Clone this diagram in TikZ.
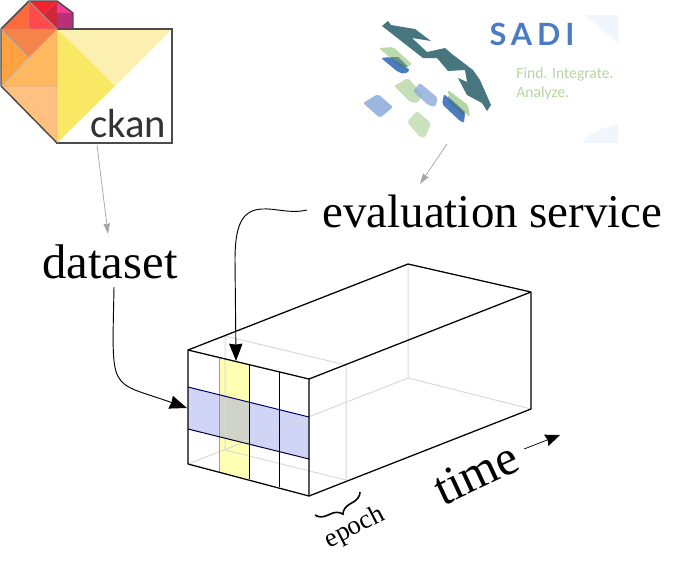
\documentclass[tikz,border=0pt]{standalone}
\usepackage{fontspec}
\setmainfont{Liberation Serif}
\newfontfamily\logofont{Carlito}
\newfontfamily\sadifont[LetterSpace=16]{Lato}
\usetikzlibrary{arrows.meta,decorations.pathreplacing}
\definecolor{tealsadi}{HTML}{47767F}
\definecolor{bluesadi}{HTML}{4A7CC4}
\definecolor{greensadi}{HTML}{B5D6A2}
\definecolor{palesadi}{HTML}{F1F6FC}
\definecolor{hidden}{HTML}{DADADA}
\definecolor{column}{HTML}{FFFFB4}
\definecolor{row}{HTML}{8993E8}
\tikzset{
 bigtext/.style={font=\fontsize{35.2}{36}\selectfont,inner sep=0pt},
 callout/.style={-{Stealth[length=13pt,width=10pt,inset=.7pt]},line width=.7pt},
 feeder/.style={-{Stealth[length=8pt,width=5pt,inset=.8pt]},draw=gray!70,line width=.55pt},
 edge/.style={line width=.95pt,line join=round},
 inner/.style={line width=.75pt},
 behind/.style={draw=hidden,line width=.75pt},
 patch/.style={rounded corners=1.5pt},
}
\begin{document}
\begin{tikzpicture}[x=.75pt,y=-.75pt]
 \useasboundingbox (0,0) rectangle (680,562);
 % ckan logo
 \draw[line width=1.1pt,draw=black!70,fill=white] (57,29)--(172,29)--(172,143)--(57,143)--cycle;
 \fill[fill={rgb,255:red,251;green,240;blue,176}] (58,30)--(171,30)--(115,86)--cycle;
 \fill[fill={rgb,255:red,249;green,232;blue,99}] (57,29)--(115,86)--(57,143)--cycle;
 \fill[fill={rgb,255:red,255;green,192;blue,128}] (1,86)--(57,86)--(57,143)--cycle;
 \fill[fill={rgb,255:red,253;green,184;blue,96}] (1,86)--(57,29)--(57,86)--cycle;
 \fill[fill={rgb,255:red,255;green,162;blue,63}] (1,29)--(29,57)--(1,86)--cycle;
 \fill[fill={rgb,255:red,245;green,132;blue,74}] (1,29)--(57,29)--(29,57)--cycle;
 \fill[fill={rgb,255:red,255;green,106;blue,60}] (1,29)--(29,1)--(29,29)--cycle;
 \fill[fill={rgb,255:red,255;green,75;blue,75}] (29,1)--(57,29)--(29,29)--cycle;
 \fill[fill={rgb,255:red,240;green,36;blue,47}] (29,1)--(57,1)--(43,15)--cycle;
 \fill[fill={rgb,255:red,208;green,40;blue,56}] (57,1)--(57,29)--(43,15)--cycle;
 \fill[fill={rgb,255:red,240;green,60;blue,150}] (57,1)--(73,13)--(57,13)--cycle;
 \fill[fill={rgb,255:red,184;green,48;blue,120}] (57,13)--(73,13)--(73,29)--(57,29)--cycle;
 \draw[line width=1.1pt,draw=black!70,line join=round] (57,29)--(73,29)--(73,13)--(57,1)--(29,1)--(1,29)--(1,86)--(57,143);
 \draw[draw=black!35,line width=.3pt] (1,29)--(57,29)--(57,143) (1,86)--(57,29) (1,86)--(57,86) (29,1)--(29,29) (1,29)--(29,57) (29,1)--(57,29);
 \node[font=\logofont\fontsize{30.5}{31}\selectfont,text=black!80,inner sep=0pt] (ckan) at (128,124) {ckan};
 \coordinate (ckanfoot) at (97,145);
 \coordinate (datasettop) at (108,234);
 % sadi logo
 \fill[palesadi] (585,15)--(618,15)--(618,43)--cycle;
 \fill[palesadi] (582,143)--(618,143)--(618,124) .. controls (600,128) and (588,134) .. (582,143);
 \fill[patch,greensadi!90!white] (379,48)--(393,47)--(412,64)--(408,67)--(398,65)--cycle;
 \fill[patch,bluesadi] (381,58)--(390,57)--(410,70)--(405,74)--(398,72)--cycle;
 \fill[tealsadi,fill opacity=.75] (390,57)--(398,57)--(408,67)--(400,67)--cycle;
 \fill[patch,greensadi!80!white] (394,86)--(408,78)--(423,95)--(417,103)--(410,102)--cycle;
 \fill[patch,bluesadi!60!white,fill opacity=.85] (413,91)--(420,83)--(438,98)--(435,107)--(428,105)--cycle;
 \fill[patch,bluesadi!55!white] (363,103)--(378,94)--(393,107)--(380,118)--cycle;
 \fill[patch,greensadi!70!white] (407,122)--(417,111)--(431,123)--(425,138)--(420,137)--cycle;
 \fill[patch,greensadi] (448,90)--(468,105)--(470,117)--(465,113)--(448,95)--cycle;
 \fill[patch,bluesadi] (442,104)--(444,94)--(465,113)--(464,123)--(460,121)--cycle;
 \fill[tealsadi,fill opacity=.75] (448,96)--(465,112)--(464,117)--(449,102)--cycle;
 \fill[tealsadi] (382,26)--(388,21)--(391,25)--(415,29)--(431,41)--(412,38)--(427,52)--(445,48)--(452,54)--(473,70)--(480,80)--(491,105)--(487,111)--(482,103)--(467,95)--(458,78)--(467,82)--(465,70)--(448,71)--(437,58)--(423,58)--cycle;
 \node[font=\sadifont\bfseries\fontsize{23}{23}\selectfont,text=bluesadi,inner sep=0pt] (sadi) at (532,34) {SADI};
 \node[font=\logofont\fontsize{11.7}{14.2}\selectfont,text=greensadi,align=left,inner sep=0pt] (motto) at (565,84) {Find. Integrate.\\Analyze.};
 \coordinate (sadifoot) at (447,144);
 \coordinate (evaltop) at (420,184);
 % labels
 \node[bigtext,font=\fontsize{36.5}{37}\selectfont] (dataset) at (110,262) {dataset};
 \node[bigtext] (evaluation) at (492.5,211) {evaluation service};
 \node[bigtext,font=\fontsize{37}{38}\selectfont,rotate=25] (time) at (476,473) {time};
 \node[font=\fontsize{20}{20}\selectfont,rotate=27,inner sep=0pt] (epoch) at (355,528) {epoch};
 % fills
 \coordinate (datasetfoot) at (114,287);
 \coordinate (evalfoot) at (307,210);
 \coordinate (rowin) at (187,408);
 \coordinate (colin) at (236,361);
 \coordinate (timetail) at (524,449);
 \coordinate (timehead) at (560,435);
 \coordinate (ftl) at (188,350);
 \coordinate (ftr) at (309,379);
 \coordinate (fbl) at (188,464);
 \coordinate (fbr) at (309,496);
 \coordinate (btl) at (408,264);
 \coordinate (btr) at (531,292);
 \coordinate (bbl) at (408,378);
 \coordinate (bbr) at (531,409);
 \fill[column] (219,357.5)--(249,364.5)--(249,479)--(219,471.5)--cycle;
 \fill[row,fill opacity=.4] (188,387)--(309,417)--(309,459)--(188,429)--cycle;
 % hidden edges
 \draw[behind] (fbl)--(bbl)--(bbr) (btl)--(bbl);
 \draw[behind] (225,336)--(346,365)--(346,480)--(225,450)--cycle;
 % grid
 \draw[inner,draw=yellow!40!black!70] (219,357.5)--(219,471.5);
 \foreach \x/\a/\b in {249/364.5/479,279/372/487} \draw[inner] (\x,\a)--(\x,\b);
 \draw[inner,draw=blue!45!black] (188,387)--(309,417);
 \draw[inner,draw=blue!20!black] (188,429)--(309,459);
 % box
 \draw[edge] (ftl)--(ftr)--(fbr)--(fbl)--cycle;
 \draw[edge] (ftl)--(btl)--(btr)--(ftr);
 \draw[edge] (btr)--(bbr)--(fbr);
 % connectors
 \draw[feeder] (ckanfoot)--(datasettop);
 \draw[feeder] (sadifoot)--(evaltop);
 \draw[callout] (datasetfoot) .. controls (112,395) and (108,380) .. (rowin);
 \draw[callout] (evalfoot) .. controls (290,214) and (275,208) .. (262,209) .. controls (242,210) and (235,225) .. (235,260) -- (colin);
 \draw[-{Stealth[length=11pt,width=9pt,inset=1pt]},line width=.55pt] (timetail)--(timehead);
 \draw[line width=1.2pt,decorate,decoration={brace,amplitude=9pt}] (360,492)--(315,515);
\end{tikzpicture}
\end{document}
